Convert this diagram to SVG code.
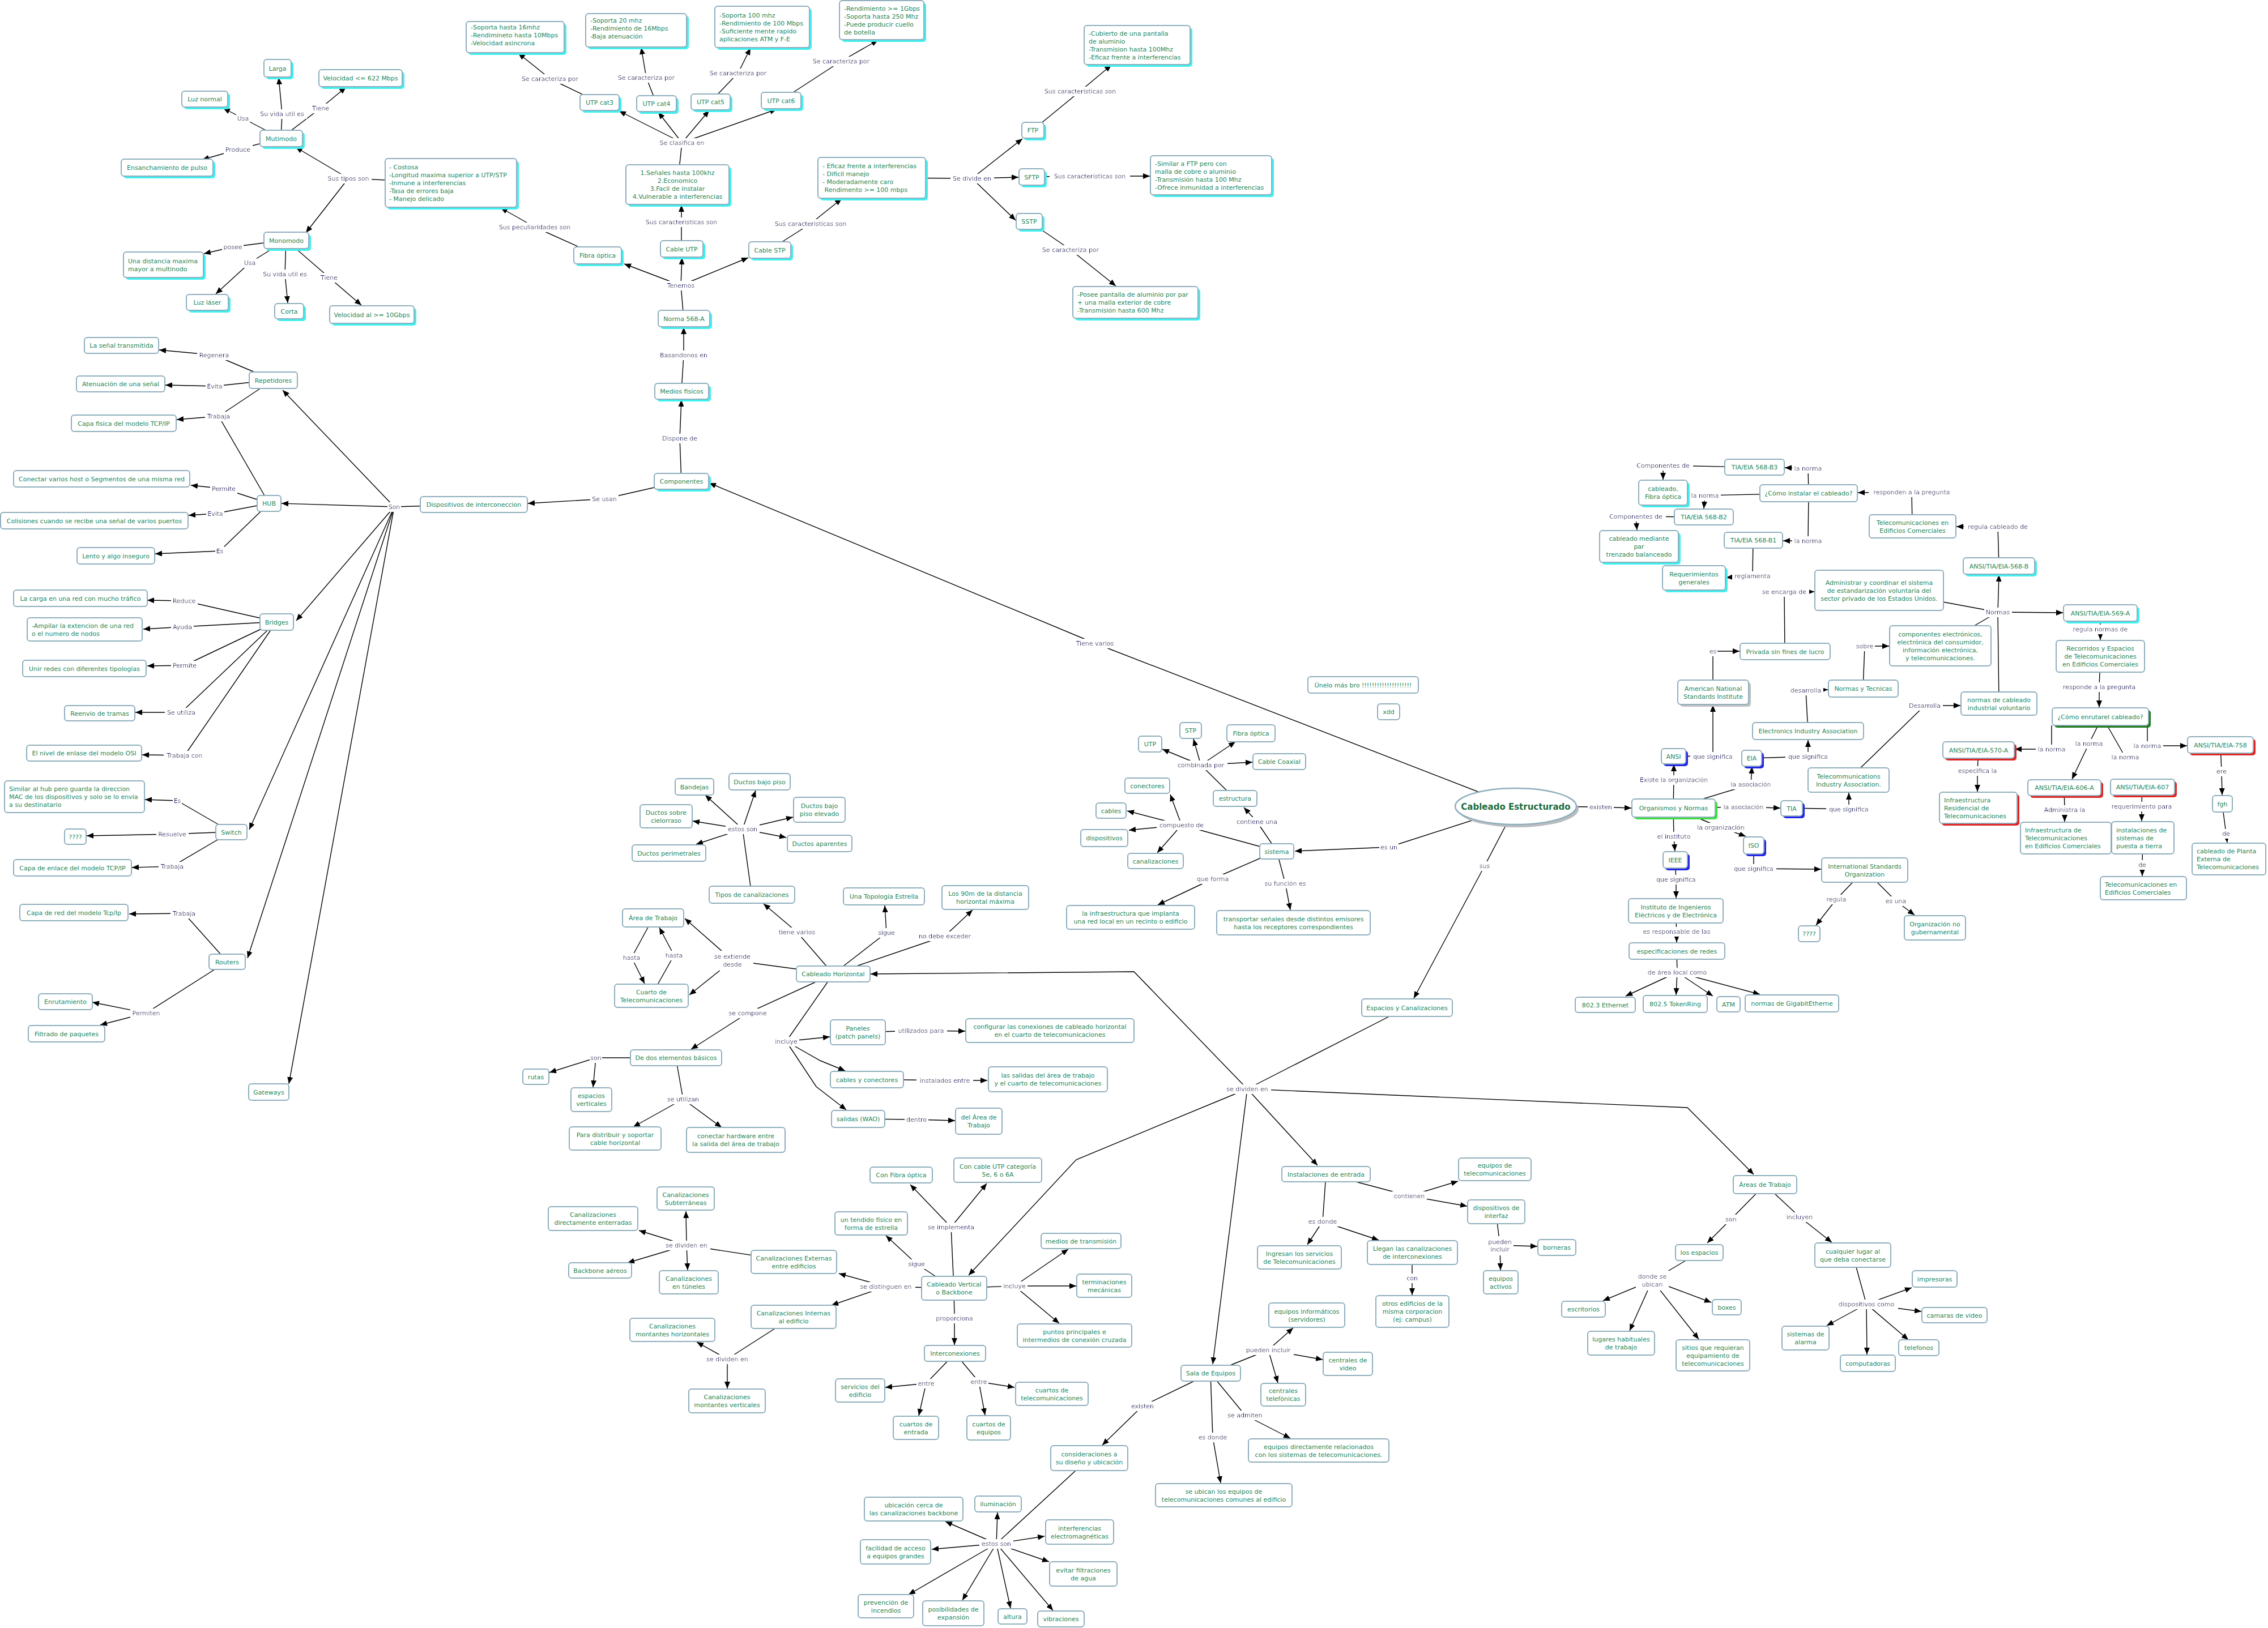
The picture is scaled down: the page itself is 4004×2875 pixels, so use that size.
<svg xmlns="http://www.w3.org/2000/svg" width="4004" height="2875" viewBox="0 0 4004 2875">
<style>
.b{fill:#fff;stroke:#8fafbd;stroke-width:2}
.sc{fill:#3ef0f0}.sr{fill:#e02424}.sb{fill:#2424e8}.sg{fill:#3ce03c}.sd{fill:#1f7a1f}.sy{fill:#c0c0c0}
.t{font-family:"DejaVu Sans",Verdana,sans-serif;font-size:11px;fill:#23875a;text-anchor:middle}
.tl{text-anchor:start}
.lb{font-family:"DejaVu Sans",Verdana,sans-serif;font-size:11px;fill:#16166a;text-anchor:middle;filter:url(#bg)}
.c{fill:none;stroke:#000;stroke-width:1.4}
.a{marker-end:url(#ar)}
</style>
<defs>
<marker id="ar" markerUnits="userSpaceOnUse" markerWidth="12" markerHeight="10" refX="12" refY="5" orient="auto"><path d="M0,0 L12,5 L0,10 z" fill="#000"/></marker>
<filter id="bg" x="-0.06" y="-0.12" width="1.12" height="1.24"><feFlood flood-color="#fff" result="f"/><feComposite in="SourceGraphic" in2="f" operator="over"/></filter>
</defs>
<rect width="4004" height="2875" fill="#fff"/>
<g id="connectors" class="c">
<path d="M496,244 L429,209"/><path class="a" d="M429,209 L394,191"/>
<path d="M496,244 L498,201"/><path class="a" d="M498,201 L492,137"/>
<path d="M496,244 L566,191"/><path class="a" d="M566,191 L611,154"/>
<path d="M496,244 L420,264"/><path class="a" d="M420,264 L357,282"/>
<path d="M796,323 L615,315"/><path class="a" d="M615,315 L522,260"/><path class="a" d="M615,315 L540,411"/>
<path d="M505,424 L411,436"/><path class="a" d="M411,436 L360,448"/>
<path d="M505,424 L441,464"/><path class="a" d="M441,464 L381,519"/>
<path d="M505,424 L503,484"/><path class="a" d="M503,484 L508,535"/>
<path d="M505,424 L581,490"/><path class="a" d="M581,490 L638,539"/>
<path d="M1055,451 L944,401"/><path class="a" d="M944,401 L884,367"/>
<path d="M482,671 L378,627"/><path class="a" d="M378,627 L281,618"/>
<path d="M482,671 L379,682"/><path class="a" d="M379,682 L292,680"/>
<path d="M482,671 L386,735"/><path d="M475,889 L386,735"/><path class="a" d="M386,735 L312,741"/>
<path d="M475,889 L395,863"/><path class="a" d="M395,863 L337,857"/>
<path d="M475,889 L380,907"/><path class="a" d="M380,907 L333,910"/>
<path d="M475,889 L388,973"/><path class="a" d="M388,973 L274,978"/>
<path d="M836,891 L696,895"/><path class="a" d="M696,895 L499,689"/><path class="a" d="M696,895 L497,889"/><path class="a" d="M696,895 L523,1096"/><path class="a" d="M696,895 L440,1465"/><path class="a" d="M696,895 L437,1692"/><path class="a" d="M696,895 L510,1914"/>
<path d="M488,1098 L325,1061"/><path class="a" d="M325,1061 L260,1060"/>
<path d="M488,1098 L322,1107"/><path class="a" d="M322,1107 L253,1111"/>
<path d="M488,1098 L326,1175"/><path class="a" d="M326,1175 L260,1176"/>
<path d="M488,1098 L320,1258"/><path class="a" d="M320,1258 L239,1258"/>
<path d="M488,1098 L326,1334"/><path class="a" d="M326,1334 L251,1333"/>
<path d="M408,1469 L313,1414"/><path class="a" d="M313,1414 L256,1412"/>
<path d="M408,1469 L304,1473"/><path class="a" d="M304,1473 L153,1476"/>
<path d="M408,1469 L304,1530"/><path class="a" d="M304,1530 L233,1532"/>
<path d="M401,1698 L325,1613"/><path class="a" d="M325,1613 L228,1614"/>
<path d="M401,1698 L258,1789"/><path class="a" d="M258,1789 L163,1770"/><path class="a" d="M258,1789 L177,1810"/>
<path d="M1203,850 L1067,881"/><path class="a" d="M1067,881 L932,889"/>
<path d="M1203,850 L1200,774"/><path class="a" d="M1200,774 L1203,706"/>
<path d="M1203,691 L1207,627"/><path class="a" d="M1207,627 L1207,578"/>
<path d="M1207,562 L1202,504"/><path class="a" d="M1202,504 L1102,466"/><path class="a" d="M1202,504 L1204,455"/><path class="a" d="M1202,504 L1321,455"/>
<path d="M1203,439 L1203,392"/><path class="a" d="M1203,392 L1203,362"/>
<path d="M1359,441 L1431,395"/><path class="a" d="M1431,395 L1486,351"/>
<path d="M1196,326 L1204,252"/><path class="a" d="M1204,252 L1093,196"/><path class="a" d="M1204,252 L1162,198"/><path class="a" d="M1204,252 L1252,195"/><path class="a" d="M1204,252 L1371,193"/>
<path d="M1058,181 L971,139"/><path class="a" d="M971,139 L915,94"/>
<path d="M1159,183 L1141,137"/><path class="a" d="M1141,137 L1132,84"/>
<path d="M1254,180 L1303,129"/><path class="a" d="M1303,129 L1325,85"/>
<path d="M1379,177 L1485,108"/><path class="a" d="M1485,108 L1550,71"/>
<path d="M1539,314 L1716,315"/><path class="a" d="M1716,315 L1805,245"/><path class="a" d="M1716,315 L1798,313"/><path class="a" d="M1716,315 L1793,389"/>
<path d="M1823,230 L1907,161"/><path class="a" d="M1907,161 L1962,115"/>
<path d="M1821,312 L1924,311"/><path class="a" d="M1924,311 L2030,311"/>
<path d="M1817,391 L1890,441"/><path class="a" d="M1890,441 L1970,505"/>
<path d="M2676,1424 L1933,1136"/><path class="a" d="M1933,1136 L1252,853"/>
<path d="M2676,1424 L2452,1496"/><path class="a" d="M2452,1496 L2286,1503"/>
<path d="M2676,1424 L2621,1529"/><path class="a" d="M2621,1529 L2496,1763"/>
<path d="M2676,1424 L2826,1425"/><path class="a" d="M2826,1425 L2880,1427"/>
<path d="M2254,1503 L2219,1451"/><path class="a" d="M2219,1451 L2196,1426"/>
<path d="M2254,1503 L2086,1457"/><path class="a" d="M2086,1457 L2066,1403"/><path class="a" d="M2086,1457 L1990,1432"/><path class="a" d="M2086,1457 L1993,1466"/><path class="a" d="M2086,1457 L2043,1506"/>
<path d="M2180,1410 L2120,1351"/><path class="a" d="M2120,1351 L2052,1323"/><path class="a" d="M2120,1351 L2107,1305"/><path class="a" d="M2120,1351 L2181,1310"/><path class="a" d="M2120,1351 L2211,1346"/>
<path d="M2254,1503 L2141,1552"/><path class="a" d="M2141,1552 L2044,1598"/>
<path d="M2254,1503 L2269,1560"/><path class="a" d="M2269,1560 L2278,1607"/>
<path d="M1471,1720 L1407,1646"/><path class="a" d="M1407,1646 L1348,1596"/>
<path d="M1327,1580 L1311,1464"/><path class="a" d="M1311,1464 L1245,1404"/><path class="a" d="M1311,1464 L1334,1396"/><path class="a" d="M1311,1464 L1223,1450"/><path class="a" d="M1311,1464 L1400,1443"/><path class="a" d="M1311,1464 L1229,1491"/><path class="a" d="M1311,1464 L1388,1479"/>
<path d="M1471,1720 L1565,1647"/><path class="a" d="M1565,1647 L1562,1599"/>
<path d="M1471,1720 L1668,1653"/><path class="a" d="M1668,1653 L1717,1607"/>
<path d="M1471,1720 L1293,1696"/><path class="a" d="M1293,1696 L1209,1622"/><path class="a" d="M1293,1696 L1217,1757"/>
<path d="M1153,1621 L1115,1691"/><path class="a" d="M1115,1691 L1138,1737"/>
<path d="M1150,1758 L1190,1687"/><path class="a" d="M1190,1687 L1164,1638"/>
<path d="M1471,1720 L1320,1789"/><path class="a" d="M1320,1789 L1220,1853"/>
<path d="M1193,1868 L1052,1868"/><path class="a" d="M1052,1868 L970,1894"/><path class="a" d="M1052,1868 L1047,1920"/>
<path d="M1193,1868 L1206,1941"/><path class="a" d="M1206,1941 L1118,1990"/><path class="a" d="M1206,1941 L1274,1991"/>
<path d="M1471,1720 L1388,1839"/><path class="a" d="M1388,1839 L1465,1831"/><path class="a" d="M1388,1839 L1448,1873 L1492,1891"/><path class="a" d="M1388,1839 L1441,1919 L1494,1960"/>
<path d="M1514,1823 L1626,1820"/><path class="a" d="M1626,1820 L1704,1821"/>
<path d="M1530,1906 L1668,1908"/><path class="a" d="M1668,1908 L1743,1908"/>
<path d="M1515,1976 L1618,1977"/><path class="a" d="M1618,1977 L1686,1979"/>
<path d="M1684,2275 L1679,2167"/><path class="a" d="M1679,2167 L1607,2092"/><path class="a" d="M1679,2167 L1742,2090"/>
<path d="M1684,2275 L1618,2232"/><path class="a" d="M1618,2232 L1564,2182"/>
<path d="M1684,2275 L1791,2271"/><path class="a" d="M1791,2271 L1886,2206"/><path class="a" d="M1791,2271 L1900,2271"/><path class="a" d="M1791,2271 L1870,2337"/>
<path d="M1684,2275 L1564,2272"/><path class="a" d="M1564,2272 L1481,2249"/><path class="a" d="M1564,2272 L1468,2305"/>
<path d="M1401,2228 L1212,2199"/><path class="a" d="M1212,2199 L1211,2139"/><path class="a" d="M1212,2199 L1128,2173"/><path class="a" d="M1212,2199 L1108,2230"/><path class="a" d="M1212,2199 L1214,2243"/>
<path d="M1401,2325 L1284,2400"/><path class="a" d="M1284,2400 L1230,2370"/><path class="a" d="M1284,2400 L1284,2452"/>
<path d="M1684,2275 L1685,2328"/><path class="a" d="M1685,2328 L1685,2375"/>
<path d="M1686,2390 L1635,2443"/><path class="a" d="M1635,2443 L1563,2450"/><path class="a" d="M1635,2443 L1622,2500"/>
<path d="M1686,2390 L1728,2440"/><path class="a" d="M1728,2440 L1791,2450"/><path class="a" d="M1728,2440 L1739,2499"/>
<path d="M2484,1779 L2202,1923"/>
<path class="a" d="M2202,1923 L2002,1716 L1537,1720"/>
<path class="a" d="M2202,1923 L1900,2048 L1710,2252"/>
<path class="a" d="M2202,1923 L2326,2058"/>
<path class="a" d="M2202,1923 L2141,2409"/>
<path class="a" d="M2202,1923 L2979,1956 L3096,2074"/>
<path d="M2341,2073 L2488,2112"/><path class="a" d="M2488,2112 L2574,2086"/><path class="a" d="M2488,2112 L2590,2130"/>
<path d="M2341,2073 L2335,2157"/><path class="a" d="M2335,2157 L2308,2198"/><path class="a" d="M2335,2157 L2434,2190"/>
<path d="M2493,2212 L2493,2257"/><path class="a" d="M2493,2257 L2493,2287"/>
<path d="M2641,2140 L2648,2199"/><path class="a" d="M2648,2199 L2714,2201"/><path class="a" d="M2648,2199 L2649,2243"/>
<path d="M2137,2425 L2239,2384"/><path class="a" d="M2239,2384 L2283,2345"/><path class="a" d="M2239,2384 L2335,2401"/><path class="a" d="M2239,2384 L2256,2442"/>
<path d="M2137,2425 L2017,2483"/><path class="a" d="M2017,2483 L1946,2552"/>
<path d="M2137,2425 L2198,2499"/><path class="a" d="M2198,2499 L2278,2540"/>
<path d="M2137,2425 L2141,2538"/><path class="a" d="M2141,2538 L2155,2619"/>
<path d="M1923,2575 L1759,2726"/><path class="a" d="M1759,2726 L1669,2687"/><path class="a" d="M1759,2726 L1761,2671"/><path class="a" d="M1759,2726 L1844,2713"/><path class="a" d="M1759,2726 L1645,2736"/><path class="a" d="M1759,2726 L1852,2758"/><path class="a" d="M1759,2726 L1604,2816"/><path class="a" d="M1759,2726 L1699,2826"/><path class="a" d="M1759,2726 L1784,2840"/><path class="a" d="M1759,2726 L1859,2844"/>
<path d="M3116,2092 L3056,2153"/><path class="a" d="M3056,2153 L3014,2195"/>
<path d="M3116,2092 L3177,2149"/><path class="a" d="M3177,2149 L3234,2194"/>
<path d="M3000,2212 L2917,2261"/><path class="a" d="M2917,2261 L2830,2297"/><path class="a" d="M2917,2261 L2877,2350"/><path class="a" d="M2917,2261 L2999,2365"/><path class="a" d="M2917,2261 L3021,2300"/>
<path d="M3271,2216 L3295,2303"/><path class="a" d="M3295,2303 L3375,2274"/><path class="a" d="M3295,2303 L3392,2316"/><path class="a" d="M3295,2303 L3225,2341"/><path class="a" d="M3295,2303 L3369,2366"/><path class="a" d="M3295,2303 L3296,2392"/>
<path d="M3097,825 L2936,822"/><path class="a" d="M2936,822 L2936,847"/>
<path d="M3193,871 L3192,827"/><path class="a" d="M3192,827 L3151,826"/>
<path d="M3193,871 L3010,875"/><path class="a" d="M3010,875 L3008,898"/>
<path d="M3193,871 L3192,955"/><path class="a" d="M3192,955 L3148,955"/>
<path d="M3008,913 L2888,912"/><path class="a" d="M2888,912 L2890,936"/>
<path d="M3376,929 L3375,869"/><path class="a" d="M3375,869 L3280,870"/>
<path d="M3529,999 L3527,930"/><path class="a" d="M3527,930 L3454,930"/>
<path d="M3095,954 L3094,1017"/><path class="a" d="M3094,1017 L3047,1020"/>
<path d="M3151,1150 L3150,1045"/><path class="a" d="M3150,1045 L3203,1045"/>
<path d="M3529,1242 L3527,1081"/><path d="M3317,1042 L3527,1081"/><path d="M3425,1140 L3527,1081"/>
<path class="a" d="M3527,1081 L3529,1015"/><path class="a" d="M3527,1081 L3642,1082"/>
<path d="M3708,1082 L3708,1111"/><path class="a" d="M3708,1111 L3708,1130"/>
<path d="M3708,1159 L3706,1213"/><path class="a" d="M3706,1213 L3706,1249"/>
<path d="M3024,1222 L3024,1150"/><path class="a" d="M3024,1150 L3071,1150"/>
<path d="M3289,1216 L3292,1141"/><path class="a" d="M3292,1141 L3335,1141"/>
<path d="M3192,1291 L3188,1219"/><path class="a" d="M3188,1219 L3227,1218"/>
<path d="M3263,1377 L3398,1246"/><path class="a" d="M3398,1246 L3461,1246"/>
<path d="M3622,1281 L3622,1323"/><path class="a" d="M3622,1323 L3557,1323"/>
<path d="M3704,1281 L3688,1313"/><path class="a" d="M3688,1313 L3658,1376"/>
<path d="M3720,1281 L3752,1337"/>
<path d="M3791,1281 L3791,1317"/><path class="a" d="M3791,1317 L3861,1317"/>
<path d="M3493,1324 L3491,1361"/><path class="a" d="M3491,1361 L3491,1398"/>
<path d="M3644,1391 L3645,1430"/><path class="a" d="M3645,1430 L3645,1451"/>
<path d="M3782,1390 L3781,1424"/><path class="a" d="M3781,1424 L3781,1450"/>
<path d="M3783,1479 L3782,1527"/><path class="a" d="M3782,1527 L3782,1547"/>
<path d="M3920,1315 L3922,1362"/><path class="a" d="M3922,1362 L3923,1404"/>
<path d="M3923,1419 L3930,1472"/><path class="a" d="M3930,1472 L3932,1488"/>
<path d="M2954,1427 L2955,1377"/><path class="a" d="M2955,1377 L2955,1350"/>
<path d="M2954,1335 L3024,1336"/><path class="a" d="M3024,1336 L3024,1245"/>
<path d="M2954,1427 L3091,1385"/><path class="a" d="M3091,1385 L3093,1354"/>
<path d="M3092,1339 L3192,1336"/><path class="a" d="M3192,1336 L3192,1307"/>
<path d="M2954,1427 L3078,1425"/><path class="a" d="M3078,1425 L3143,1427"/>
<path d="M3163,1427 L3264,1429"/><path class="a" d="M3264,1429 L3264,1400"/>
<path d="M2954,1427 L3038,1461"/><path class="a" d="M3038,1461 L3082,1477"/>
<path d="M2954,1427 L2955,1477"/><path class="a" d="M2955,1477 L2957,1503"/>
<path d="M3096,1493 L3096,1534"/><path class="a" d="M3096,1534 L3215,1535"/>
<path d="M2957,1518 L2959,1553"/><path class="a" d="M2959,1553 L2959,1586"/>
<path d="M3292,1536 L3242,1588"/><path class="a" d="M3242,1588 L3206,1634"/>
<path d="M3292,1536 L3347,1591"/><path class="a" d="M3347,1591 L3380,1616"/>
<path d="M2958,1608 L2960,1645"/><path class="a" d="M2960,1645 L2960,1664"/>
<path d="M2960,1679 L2961,1717"/><path class="a" d="M2961,1717 L2870,1759"/><path class="a" d="M2961,1717 L2959,1757"/><path class="a" d="M2961,1717 L3024,1759"/><path class="a" d="M2961,1717 L3107,1756"/>
</g>
<g id="labels">
<text class="lb" x="429" y="213">Usa</text>
<text class="lb" x="498" y="205">Su vida util es</text>
<text class="lb" x="566" y="195">Tiene</text>
<text class="lb" x="420" y="268">Produce</text>
<text class="lb" x="615" y="319">Sus tipos son</text>
<text class="lb" x="411" y="440">posee</text>
<text class="lb" x="441" y="468">Usa</text>
<text class="lb" x="503" y="488">Su vida util es</text>
<text class="lb" x="581" y="494">Tiene</text>
<text class="lb" x="944" y="405">Sus peculiaridades son</text>
<text class="lb" x="378" y="631">Regenera</text>
<text class="lb" x="379" y="686">Evita</text>
<text class="lb" x="386" y="739">Trabaja</text>
<text class="lb" x="395" y="867">Permite</text>
<text class="lb" x="380" y="911">Evita</text>
<text class="lb" x="388" y="977">Es</text>
<text class="lb" x="696" y="899">Son</text>
<text class="lb" x="325" y="1065">Reduce</text>
<text class="lb" x="322" y="1111">Ayuda</text>
<text class="lb" x="326" y="1179">Permite</text>
<text class="lb" x="320" y="1262">Se utiliza</text>
<text class="lb" x="326" y="1338">Trabaja con</text>
<text class="lb" x="313" y="1418">Es</text>
<text class="lb" x="304" y="1477">Resuelve</text>
<text class="lb" x="304" y="1534">Trabaja</text>
<text class="lb" x="325" y="1617">Trabaja</text>
<text class="lb" x="258" y="1793">Permiten</text>
<text class="lb" x="1067" y="885">Se usan</text>
<text class="lb" x="1200" y="778">Dispone de</text>
<text class="lb" x="1207" y="631">Basandonos en</text>
<text class="lb" x="1202" y="508">Tenemos</text>
<text class="lb" x="1203" y="396">Sus caracteristicas son</text>
<text class="lb" x="1431" y="399">Sus caracteristicas son</text>
<text class="lb" x="1204" y="256">Se clasifica en</text>
<text class="lb" x="971" y="143">Se caracteriza por</text>
<text class="lb" x="1141" y="141">Se caracteriza por</text>
<text class="lb" x="1303" y="133">Se caracteriza por</text>
<text class="lb" x="1485" y="112">Se caracteriza por</text>
<text class="lb" x="1716" y="319">Se divide en</text>
<text class="lb" x="1907" y="165">Sus caracteristicas son</text>
<text class="lb" x="1924" y="315">Sus caracteristicas son</text>
<text class="lb" x="1890" y="445">Se caracteriza por</text>
<text class="lb" x="1933" y="1140">Tiene  varios</text>
<text class="lb" x="2120" y="1355">combinada por</text>
<text class="lb" x="2219" y="1455">contiene una</text>
<text class="lb" x="2086" y="1461">compuesto de</text>
<text class="lb" x="2452" y="1500">es un</text>
<text class="lb" x="2621" y="1533">sus</text>
<text class="lb" x="2141" y="1556">que forma</text>
<text class="lb" x="2269" y="1564">su función es</text>
<text class="lb" x="1311" y="1468">estos son</text>
<text class="lb" x="1407" y="1650">tiene varios</text>
<text class="lb" x="1565" y="1651">sigue</text>
<text class="lb" x="1668" y="1657">no debe exceder</text>
<text class="lb" x="1115" y="1695">hasta</text>
<text class="lb" x="1190" y="1691">hasta</text>
<text class="lb" x="1293" y="1693">se extiende<tspan x="1293" dy="14">desde</tspan></text>
<text class="lb" x="1320" y="1793">se compone</text>
<text class="lb" x="1626" y="1824">utilizados para</text>
<text class="lb" x="1388" y="1843">incluye</text>
<text class="lb" x="1052" y="1872">son</text>
<text class="lb" x="1668" y="1912">instalados entre</text>
<text class="lb" x="1206" y="1945">se utilizan</text>
<text class="lb" x="1618" y="1981">dentro</text>
<text class="lb" x="1679" y="2171">se implementa</text>
<text class="lb" x="1212" y="2203">se dividen en</text>
<text class="lb" x="1618" y="2236">sigue</text>
<text class="lb" x="1564" y="2276">se distinguen en</text>
<text class="lb" x="1791" y="2275">incluye</text>
<text class="lb" x="1685" y="2332">proporciona</text>
<text class="lb" x="1284" y="2404">se dividen en</text>
<text class="lb" x="1635" y="2447">entre</text>
<text class="lb" x="1728" y="2444">entre</text>
<text class="lb" x="1759" y="2730">estos son</text>
<text class="lb" x="2202" y="1927">se dividen en</text>
<text class="lb" x="2488" y="2116">contienen</text>
<text class="lb" x="2335" y="2161">es donde</text>
<text class="lb" x="2648" y="2197">pueden<tspan x="2648" dy="13">incluir</tspan></text>
<text class="lb" x="2493" y="2261">con</text>
<text class="lb" x="2239" y="2388">pueden incluir</text>
<text class="lb" x="2017" y="2487">existen</text>
<text class="lb" x="2198" y="2503">se admiten</text>
<text class="lb" x="2141" y="2542">es donde</text>
<text class="lb" x="3056" y="2157">son</text>
<text class="lb" x="3177" y="2153">incluyen</text>
<text class="lb" x="2917" y="2258">donde se<tspan x="2917" dy="14">ubican</tspan></text>
<text class="lb" x="3295" y="2307">dispositivos como</text>
<text class="lb" x="2826" y="1429">existen</text>
<text class="lb" x="2936" y="826">Componentes de</text>
<text class="lb" x="3192" y="831">la norma</text>
<text class="lb" x="3010" y="879">la norma</text>
<text class="lb" x="3375" y="873">responden a la pregunta</text>
<text class="lb" x="2888" y="916">Componentes de</text>
<text class="lb" x="3192" y="959">la norma</text>
<text class="lb" x="3527" y="934">regula cableado de</text>
<text class="lb" x="3094" y="1021">reglamenta</text>
<text class="lb" x="3150" y="1049">se encarga de</text>
<text class="lb" x="3527" y="1085">Normas</text>
<text class="lb" x="3708" y="1115">regula normas de</text>
<text class="lb" x="3292" y="1145">sobre</text>
<text class="lb" x="3024" y="1154">es</text>
<text class="lb" x="3188" y="1223">desarrolla</text>
<text class="lb" x="3706" y="1217">responde a la pregunta</text>
<text class="lb" x="3398" y="1250">Desarrolla</text>
<text class="lb" x="3688" y="1317">la norma</text>
<text class="lb" x="3791" y="1321">la norma</text>
<text class="lb" x="3622" y="1327">la norma</text>
<text class="lb" x="3752" y="1341">la norma</text>
<text class="lb" x="3024" y="1340">que significa</text>
<text class="lb" x="3192" y="1340">que significa</text>
<text class="lb" x="3491" y="1365">especifica la</text>
<text class="lb" x="3922" y="1366">ere</text>
<text class="lb" x="2955" y="1381">Existe la organización</text>
<text class="lb" x="3091" y="1389">la asociación</text>
<text class="lb" x="3078" y="1429">la asociación</text>
<text class="lb" x="3264" y="1433">que significa</text>
<text class="lb" x="3645" y="1434">Administra la</text>
<text class="lb" x="3781" y="1428">requerimiento para</text>
<text class="lb" x="3038" y="1465">la organización</text>
<text class="lb" x="2955" y="1481">el instituto</text>
<text class="lb" x="3930" y="1476">de</text>
<text class="lb" x="3096" y="1538">que significa</text>
<text class="lb" x="3782" y="1531">de</text>
<text class="lb" x="2959" y="1557">que significa</text>
<text class="lb" x="3242" y="1592">regula</text>
<text class="lb" x="3347" y="1595">es una</text>
<text class="lb" x="2960" y="1649">es responsable de las</text>
<text class="lb" x="2961" y="1721">de área local como</text>
</g>
<g id="nodes">
<g id="n-larga"><rect class="sc" x="470" y="109" width="48" height="31" rx="5"/><rect class="b" x="466" y="105" width="48" height="31" rx="5"/><text class="t" x="490" y="124.5">Larga</text></g>
<g id="n-vel622"><rect class="sc" x="567" y="127" width="147" height="30" rx="5"/><rect class="b" x="563" y="123" width="147" height="30" rx="5"/><text class="t" x="636.5" y="142">Velocidad &lt;= 622 Mbps</text></g>
<g id="n-luznormal"><rect class="sc" x="325" y="165" width="81" height="28" rx="5"/><rect class="b" x="321" y="161" width="81" height="28" rx="5"/><text class="t" x="361.5" y="179">Luz normal</text></g>
<g id="n-mutimodo"><rect class="sc" x="463" y="234" width="75" height="29" rx="5"/><rect class="b" x="459" y="230" width="75" height="29" rx="5"/><text class="t" x="496.5" y="248.5">Mutimodo</text></g>
<g id="n-ensanch"><rect class="sc" x="218" y="285" width="162" height="30" rx="5"/><rect class="b" x="214" y="281" width="162" height="30" rx="5"/><text class="t" x="295" y="300">Ensanchamiento de pulso</text></g>
<g id="n-costosa"><rect class="sc" x="684" y="284" width="232" height="86" rx="5"/><rect class="b" x="680" y="280" width="232" height="86" rx="5"/><text class="t tl" x="687" y="299">- Costosa<tspan x="687" dy="14">-Longitud maxima superior a UTP/STP</tspan><tspan x="687" dy="14">-Inmune a interferencias</tspan><tspan x="687" dy="14">-Tasa de errores baja</tspan><tspan x="687" dy="14">- Manejo delicado</tspan></text></g>
<g id="n-monomodo"><rect class="sc" x="470" y="414" width="79" height="29" rx="5"/><rect class="b" x="466" y="410" width="79" height="29" rx="5"/><text class="t" x="505.5" y="428.5">Monomodo</text></g>
<g id="n-distmax"><rect class="sc" x="222" y="449" width="141" height="45" rx="5"/><rect class="b" x="218" y="445" width="141" height="45" rx="5"/><text class="t tl" x="226" y="464.5">Una distancia maxima<tspan x="226" dy="14">mayor a multinodo</tspan></text></g>
<g id="n-luzlaser"><rect class="sc" x="333" y="524" width="74" height="28" rx="5"/><rect class="b" x="329" y="520" width="74" height="28" rx="5"/><text class="t" x="366" y="538">Luz láser</text></g>
<g id="n-corta"><rect class="sc" x="489" y="540" width="51" height="27" rx="5"/><rect class="b" x="485" y="536" width="51" height="27" rx="5"/><text class="t" x="510.5" y="553.5">Corta</text></g>
<g id="n-vel10g"><rect class="sc" x="586" y="544" width="149" height="31" rx="5"/><rect class="b" x="582" y="540" width="149" height="31" rx="5"/><text class="t" x="656.5" y="559.5">Velocidad al &gt;= 10Gbps</text></g>
<g id="n-senal"><rect class="b" x="149" y="596" width="131" height="28" rx="5"/><text class="t" x="214.5" y="614">La señal transmitida</text></g>
<g id="n-repetidores"><rect class="b" x="440" y="657" width="85" height="29" rx="5"/><text class="t" x="482.5" y="675.5">Repetidores</text></g>
<g id="n-atenuacion"><rect class="b" x="135" y="664" width="156" height="28" rx="5"/><text class="t" x="213" y="682">Atenuación de una señal</text></g>
<g id="n-capafisica"><rect class="b" x="126" y="733" width="185" height="29" rx="5"/><text class="t" x="218.5" y="751.5">Capa fisica del modelo TCP/IP</text></g>
<g id="n-conectar"><rect class="b" x="24" y="831" width="311" height="29" rx="5"/><text class="t" x="179.5" y="849.5">Conectar varios host o Segmentos de una misma red</text></g>
<g id="n-hub"><rect class="b" x="454" y="875" width="42" height="28" rx="5"/><text class="t" x="475" y="893">HUB</text></g>
<g id="n-colisiones"><rect class="b" x="1" y="905" width="331" height="29" rx="5"/><text class="t" x="166.5" y="923.5">Colisiones cuando se recibe una señal de varios puertos</text></g>
<g id="n-lento"><rect class="b" x="136" y="967" width="137" height="29" rx="5"/><text class="t" x="204.5" y="985.5">Lento y algo inseguro</text></g>
<g id="n-dispint"><rect class="b" x="742" y="877" width="189" height="28" rx="5"/><text class="t" x="836.5" y="895">Dispositivos de interconeccion</text></g>
<g id="n-carga"><rect class="b" x="24" y="1042" width="236" height="29" rx="5"/><text class="t" x="142" y="1060.5">La carga en una red con mucho tráfico</text></g>
<g id="n-bridges"><rect class="b" x="459" y="1084" width="59" height="29" rx="5"/><text class="t" x="488.5" y="1102.5">Bridges</text></g>
<g id="n-ampilar"><rect class="b" x="48" y="1091" width="203" height="41" rx="5"/><text class="t tl" x="56" y="1108.5">-Ampilar la extencion de una red<tspan x="56" dy="14">o el numero de nodos</tspan></text></g>
<g id="n-unir"><rect class="b" x="40" y="1166" width="218" height="29" rx="5"/><text class="t" x="149" y="1184.5">Unir redes con diferentes tipologías</text></g>
<g id="n-reenvio"><rect class="b" x="114" y="1246" width="124" height="27" rx="5"/><text class="t" x="176" y="1263.5">Reenvio de tramas</text></g>
<g id="n-nivelosi"><rect class="b" x="47" y="1316" width="203" height="28" rx="5"/><text class="t" x="148.5" y="1334">El nivel de enlase del modelo OSI</text></g>
<g id="n-similar"><rect class="b" x="8" y="1379" width="247" height="56" rx="5"/><text class="t tl" x="16" y="1397">Similar al hub pero guarda la direccion<tspan x="16" dy="14">MAC de los dispositivos y solo se lo envia</tspan><tspan x="16" dy="14">a su destinatario</tspan></text></g>
<g id="n-q1"><rect class="b" x="114" y="1464" width="38" height="27" rx="5"/><text class="t" x="133" y="1481.5">????</text></g>
<g id="n-switch"><rect class="b" x="381" y="1456" width="55" height="27" rx="5"/><text class="t" x="408.5" y="1473.5">Switch</text></g>
<g id="n-capaenlace"><rect class="b" x="24" y="1518" width="208" height="29" rx="5"/><text class="t" x="128" y="1536.5">Capa de enlace del modelo TCP/IP</text></g>
<g id="n-capared"><rect class="b" x="35" y="1597" width="191" height="29" rx="5"/><text class="t" x="130.5" y="1615.5">Capa de red del modelo Tcp/Ip</text></g>
<g id="n-routers"><rect class="b" x="369" y="1685" width="64" height="27" rx="5"/><text class="t" x="401" y="1702.5">Routers</text></g>
<g id="n-enrut"><rect class="b" x="68" y="1755" width="95" height="28" rx="5"/><text class="t" x="115.5" y="1773">Enrutamiento</text></g>
<g id="n-filtrado"><rect class="b" x="50" y="1811" width="135" height="29" rx="5"/><text class="t" x="117.5" y="1829.5">Filtrado de paquetes</text></g>
<g id="n-gateways"><rect class="b" x="439" y="1914" width="71" height="29" rx="5"/><text class="t" x="474.5" y="1932.5">Gateways</text></g>
<g id="n-cat3box"><rect class="sc" x="827" y="42" width="173" height="55" rx="5"/><rect class="b" x="823" y="38" width="173" height="55" rx="5"/><text class="t tl" x="831" y="51.5">-Soporta hasta 16mhz<tspan x="831" dy="14">-Rendimineto hasta 10Mbps</tspan><tspan x="831" dy="14">-Velocidad asincrona</tspan></text></g>
<g id="n-cat4box"><rect class="sc" x="1038" y="28" width="178" height="59" rx="5"/><rect class="b" x="1034" y="24" width="178" height="59" rx="5"/><text class="t tl" x="1042" y="39.5">-Soporta 20 mhz<tspan x="1042" dy="14">-Rendimiento de 16Mbps</tspan><tspan x="1042" dy="14">-Baja atenuación</tspan></text></g>
<g id="n-cat5box"><rect class="sc" x="1266" y="15" width="167" height="73" rx="5"/><rect class="b" x="1262" y="11" width="167" height="73" rx="5"/><text class="t tl" x="1270" y="30.5">-Soporta 100 mhz<tspan x="1270" dy="14">-Rendimiento de 100 Mbps</tspan><tspan x="1270" dy="14">-Suficiente mente rapido</tspan><tspan x="1270" dy="14">aplicaciones ATM y F-E</tspan></text></g>
<g id="n-cat6box"><rect class="sc" x="1486" y="5" width="149" height="69" rx="5"/><rect class="b" x="1482" y="1" width="149" height="69" rx="5"/><text class="t tl" x="1490" y="18.5">-Rendimiento &gt;= 1Gbps<tspan x="1490" dy="14">-Soporta hasta 250 Mhz</tspan><tspan x="1490" dy="14">-Puede producir cuello</tspan><tspan x="1490" dy="14">de botella</tspan></text></g>
<g id="n-cat3"><rect class="sc" x="1028" y="171" width="69" height="28" rx="5"/><rect class="b" x="1024" y="167" width="69" height="28" rx="5"/><text class="t" x="1058.5" y="185">UTP cat3</text></g>
<g id="n-cat4"><rect class="sc" x="1128" y="173" width="70" height="28" rx="5"/><rect class="b" x="1124" y="169" width="70" height="28" rx="5"/><text class="t" x="1159" y="187">UTP cat4</text></g>
<g id="n-cat5"><rect class="sc" x="1224" y="170" width="69" height="28" rx="5"/><rect class="b" x="1220" y="166" width="69" height="28" rx="5"/><text class="t" x="1254.5" y="184">UTP cat5</text></g>
<g id="n-cat6"><rect class="sc" x="1348" y="167" width="70" height="29" rx="5"/><rect class="b" x="1344" y="163" width="70" height="29" rx="5"/><text class="t" x="1379" y="181.5">UTP cat6</text></g>
<g id="n-senales"><rect class="sc" x="1109" y="295" width="182" height="70" rx="5"/><rect class="b" x="1105" y="291" width="182" height="70" rx="5"/><text class="t" x="1196" y="309">1.Señales hasta 100khz<tspan x="1196" dy="14">2.Economico</tspan><tspan x="1196" dy="14">3.Facil de instalar</tspan><tspan x="1196" dy="14">4.Vulnerable a interferencias</tspan></text></g>
<g id="n-eficaz"><rect class="sc" x="1448" y="282" width="190" height="72" rx="5"/><rect class="b" x="1444" y="278" width="190" height="72" rx="5"/><text class="t tl" x="1452" y="297">- Eficaz frente a interferencias<tspan x="1452" dy="14">- Dificil manejo</tspan><tspan x="1452" dy="14">- Moderadamente caro</tspan><tspan x="1452" dy="14"> Rendimento &gt;= 100 mbps</tspan></text></g>
<g id="n-fibra"><rect class="sc" x="1017" y="440" width="84" height="30" rx="5"/><rect class="b" x="1013" y="436" width="84" height="30" rx="5"/><text class="t" x="1055" y="455">Fibra óptica</text></g>
<g id="n-cableutp"><rect class="sc" x="1170" y="429" width="75" height="29" rx="5"/><rect class="b" x="1166" y="425" width="75" height="29" rx="5"/><text class="t" x="1203.5" y="443.5">Cable UTP</text></g>
<g id="n-cablestp"><rect class="sc" x="1326" y="431" width="74" height="29" rx="5"/><rect class="b" x="1322" y="427" width="74" height="29" rx="5"/><text class="t" x="1359" y="445.5">Cable STP</text></g>
<g id="n-norma568a"><rect class="sc" x="1166" y="552" width="91" height="29" rx="5"/><rect class="b" x="1162" y="548" width="91" height="29" rx="5"/><text class="t" x="1207.5" y="566.5">Norma 568-A</text></g>
<g id="n-medios"><rect class="sc" x="1160" y="681" width="95" height="28" rx="5"/><rect class="b" x="1156" y="677" width="95" height="28" rx="5"/><text class="t" x="1203.5" y="695">Medios fisicos</text></g>
<g id="n-componentes"><rect class="sc" x="1159" y="840" width="96" height="28" rx="5"/><rect class="b" x="1155" y="836" width="96" height="28" rx="5"/><text class="t" x="1203" y="854">Componentes</text></g>
<g id="n-ftp"><rect class="sc" x="1808" y="220" width="39" height="28" rx="5"/><rect class="b" x="1804" y="216" width="39" height="28" rx="5"/><text class="t" x="1823.5" y="234">FTP</text></g>
<g id="n-sftp"><rect class="sc" x="1803" y="302" width="45" height="29" rx="5"/><rect class="b" x="1799" y="298" width="45" height="29" rx="5"/><text class="t" x="1821.5" y="316.5">SFTP</text></g>
<g id="n-sstp"><rect class="sc" x="1798" y="381" width="46" height="28" rx="5"/><rect class="b" x="1794" y="377" width="46" height="28" rx="5"/><text class="t" x="1817" y="395">SSTP</text></g>
<g id="n-cubierto"><rect class="sc" x="1918" y="49" width="187" height="69" rx="5"/><rect class="b" x="1914" y="45" width="187" height="69" rx="5"/><text class="t tl" x="1922" y="62.5">-Cubierto de una pantalla<tspan x="1922" dy="14">de aluminio</tspan><tspan x="1922" dy="14">-Transmision hasta 100Mhz</tspan><tspan x="1922" dy="14">-Eficaz frente a interferencias</tspan></text></g>
<g id="n-similarftp"><rect class="sc" x="2035" y="279" width="214" height="69" rx="5"/><rect class="b" x="2031" y="275" width="214" height="69" rx="5"/><text class="t tl" x="2039" y="292.5">-Similar a FTP pero con<tspan x="2039" dy="14">malla de cobre o aluminio</tspan><tspan x="2039" dy="14">-Transmisión hasta 100 Mhz</tspan><tspan x="2039" dy="14">-Ofrece inmunidad a interferencias</tspan></text></g>
<g id="n-posee"><rect class="sc" x="1898" y="510" width="221" height="56" rx="5"/><rect class="b" x="1894" y="506" width="221" height="56" rx="5"/><text class="t tl" x="1902" y="524">-Posee pantalla de aluminio por par<tspan x="1902" dy="14">+ una malla exterior de cobre</tspan><tspan x="1902" dy="14">-Transmisión hasta 600 Mhz</tspan></text></g>
<g id="n-unelo"><rect class="b" x="2309" y="1195" width="195" height="29" rx="5"/><text class="t" x="2406.5" y="1213.5">Únelo más bro !!!!!!!!!!!!!!!!!!!!</text></g>
<g id="n-xdd"><rect class="b" x="2432" y="1243" width="39" height="28" rx="5"/><text class="t" x="2451.5" y="1261">xdd</text></g>
<g id="n-stp2"><rect class="b" x="2083" y="1276" width="38" height="28" rx="5"/><text class="t" x="2102" y="1294">STP</text></g>
<g id="n-fibra2"><rect class="b" x="2166" y="1280" width="85" height="30" rx="5"/><text class="t" x="2208.5" y="1299">Fibra óptica</text></g>
<g id="n-utp2"><rect class="b" x="2010" y="1300" width="41" height="28" rx="5"/><text class="t" x="2030.5" y="1318">UTP</text></g>
<g id="n-coaxial"><rect class="b" x="2212" y="1331" width="93" height="28" rx="5"/><text class="t" x="2258.5" y="1349">Cable Coaxial</text></g>
<g id="n-conectores"><rect class="b" x="1986" y="1374" width="79" height="27" rx="5"/><text class="t" x="2025.5" y="1391.5">conectores</text></g>
<g id="n-estructura"><rect class="b" x="2142" y="1396" width="77" height="28" rx="5"/><text class="t" x="2180.5" y="1414">estructura</text></g>
<g id="n-cables"><rect class="b" x="1935" y="1418" width="53" height="27" rx="5"/><text class="t" x="1961.5" y="1435.5">cables</text></g>
<g id="n-dispositivos"><rect class="b" x="1908" y="1465" width="83" height="30" rx="5"/><text class="t" x="1949.5" y="1484">dispositivos</text></g>
<g id="n-sistema"><rect class="b" x="2224" y="1490" width="60" height="27" rx="5"/><text class="t" x="2254" y="1507.5">sistema</text></g>
<g id="n-canalizaciones"><rect class="b" x="1991" y="1507" width="98" height="27" rx="5"/><text class="t" x="2040" y="1524.5">canalizaciones</text></g>
<g id="n-infra"><rect class="b" x="1883" y="1599" width="226" height="42" rx="5"/><text class="t" x="1996" y="1617">la infraestructura que implanta<tspan x="1996" dy="14">una red local en un recinto o edificio</tspan></text></g>
<g id="n-transportar"><rect class="b" x="2148" y="1608" width="271" height="43" rx="5"/><text class="t" x="2283.5" y="1626.5">transportar señales desde distintos emisores<tspan x="2283.5" dy="14">hasta los receptores correspondientes</tspan></text></g>
<g id="n-espacios"><rect class="b" x="2404" y="1764" width="160" height="31" rx="5"/><text class="t" x="2484" y="1783.5">Espacios y Canalizaciones</text></g>
<g id="n-cableado-estructurado"><ellipse cx="2680" cy="1429" rx="107" ry="32" fill="#b9bcc0"/><ellipse cx="2676" cy="1424" rx="107" ry="32" fill="#fff" stroke="#8fafbd" stroke-width="2.5"/><text x="2676" y="1429.5" text-anchor="middle" font-family="DejaVu Sans, Verdana, sans-serif" font-size="15" font-weight="bold" fill="#1d6b3e">Cableado Estructurado</text></g>
<g id="n-bandejas"><rect class="b" x="1192" y="1375" width="68" height="29" rx="5"/><text class="t" x="1226" y="1393.5">Bandejas</text></g>
<g id="n-ductosbajo"><rect class="b" x="1287" y="1366" width="108" height="29" rx="5"/><text class="t" x="1341" y="1384.5">Ductos bajo piso</text></g>
<g id="n-cielorraso"><rect class="b" x="1130" y="1421" width="92" height="41" rx="5"/><text class="t" x="1176" y="1438.5">Ductos sobre<tspan x="1176" dy="14">cielorraso</tspan></text></g>
<g id="n-elevado"><rect class="b" x="1401" y="1408" width="91" height="44" rx="5"/><text class="t" x="1446.5" y="1427">Ductos bajo<tspan x="1446.5" dy="14">piso elevado</tspan></text></g>
<g id="n-perimetrales"><rect class="b" x="1116" y="1492" width="130" height="29" rx="5"/><text class="t" x="1181" y="1510.5">Ductos perimetrales</text></g>
<g id="n-aparentes"><rect class="b" x="1390" y="1475" width="114" height="29" rx="5"/><text class="t" x="1447" y="1493.5">Ductos aparentes</text></g>
<g id="n-tipos"><rect class="b" x="1252" y="1565" width="151" height="30" rx="5"/><text class="t" x="1327.5" y="1584">Tipos de canalizaciones</text></g>
<g id="n-topologia"><rect class="b" x="1489" y="1568" width="143" height="30" rx="5"/><text class="t" x="1560.5" y="1587">Una Topología Estrella</text></g>
<g id="n-m90"><rect class="b" x="1663" y="1564" width="153" height="42" rx="5"/><text class="t" x="1739.5" y="1582">Los 90m de la distancia<tspan x="1739.5" dy="14">horizontal máxima</tspan></text></g>
<g id="n-areatrab"><rect class="b" x="1099" y="1605" width="108" height="32" rx="5"/><text class="t" x="1153" y="1625">Área de Trabajo</text></g>
<g id="n-ch"><rect class="b" x="1406" y="1706" width="130" height="28" rx="5"/><text class="t" x="1471" y="1724">Cableado Horizontal</text></g>
<g id="n-cuarto"><rect class="b" x="1085" y="1738" width="130" height="41" rx="5"/><text class="t" x="1150" y="1755.5">Cuarto de<tspan x="1150" dy="14">Telecomunicaciones</tspan></text></g>
<g id="n-paneles"><rect class="b" x="1466" y="1801" width="97" height="44" rx="5"/><text class="t" x="1514.5" y="1820">Paneles<tspan x="1514.5" dy="14">(patch panels)</tspan></text></g>
<g id="n-configurar"><rect class="b" x="1705" y="1799" width="297" height="42" rx="5"/><text class="t" x="1853.5" y="1817">configurar las conexiones de cableado horizontal<tspan x="1853.5" dy="14">en el cuarto de telecomunicaciones</tspan></text></g>
<g id="n-dosel"><rect class="b" x="1113" y="1854" width="161" height="28" rx="5"/><text class="t" x="1193.5" y="1872">De dos elementos básicos</text></g>
<g id="n-rutas"><rect class="b" x="923" y="1888" width="46" height="27" rx="5"/><text class="t" x="946" y="1905.5">rutas</text></g>
<g id="n-espvert"><rect class="b" x="1008" y="1921" width="72" height="42" rx="5"/><text class="t" x="1044" y="1939">espacios<tspan x="1044" dy="14">verticales</tspan></text></g>
<g id="n-cablescon"><rect class="b" x="1466" y="1892" width="129" height="29" rx="5"/><text class="t" x="1530.5" y="1910.5">cables y conectores</text></g>
<g id="n-salidasarea"><rect class="b" x="1745" y="1884" width="210" height="44" rx="5"/><text class="t" x="1850" y="1903">las salidas del área de trabajo<tspan x="1850" dy="14">y el cuarto de telecomunicaciones</tspan></text></g>
<g id="n-wao"><rect class="b" x="1468" y="1961" width="94" height="30" rx="5"/><text class="t" x="1515" y="1980">salidas (WAO)</text></g>
<g id="n-delarea"><rect class="b" x="1687" y="1957" width="82" height="46" rx="5"/><text class="t" x="1728" y="1977">del Área de<tspan x="1728" dy="14">Trabajo</tspan></text></g>
<g id="n-paradist"><rect class="b" x="1005" y="1990" width="162" height="41" rx="5"/><text class="t" x="1086" y="2007.5">Para distribuir y soportar<tspan x="1086" dy="14">cable horizontal</tspan></text></g>
<g id="n-conhw"><rect class="b" x="1212" y="1991" width="174" height="44" rx="5"/><text class="t" x="1299" y="2010">conectar hardware entre<tspan x="1299" dy="14">la salida del área de trabajo</tspan></text></g>
<g id="n-confibra"><rect class="b" x="1536" y="2061" width="110" height="28" rx="5"/><text class="t" x="1591" y="2079">Con Fibra óptica</text></g>
<g id="n-conutp"><rect class="b" x="1684" y="2045" width="155" height="43" rx="5"/><text class="t" x="1761.5" y="2063.5">Con cable UTP categoría<tspan x="1761.5" dy="14">5e, 6 o 6A</tspan></text></g>
<g id="n-subterr"><rect class="b" x="1160" y="2096" width="101" height="41" rx="5"/><text class="t" x="1210.5" y="2113.5">Canalizaciones<tspan x="1210.5" dy="14">Subterráneas</tspan></text></g>
<g id="n-enterradas"><rect class="b" x="968" y="2131" width="158" height="42" rx="5"/><text class="t" x="1047" y="2149">Canalizaciones<tspan x="1047" dy="14">directamente enterradas</tspan></text></g>
<g id="n-tendido"><rect class="b" x="1474" y="2140" width="128" height="41" rx="5"/><text class="t" x="1538" y="2157.5">un tendido físico en<tspan x="1538" dy="14">forma de estrella</tspan></text></g>
<g id="n-medtrans"><rect class="b" x="1838" y="2178" width="141" height="27" rx="5"/><text class="t" x="1908.5" y="2195.5">medios de transmisión</text></g>
<g id="n-externas"><rect class="b" x="1326" y="2208" width="151" height="41" rx="5"/><text class="t" x="1401.5" y="2225.5">Canalizaciones Externas<tspan x="1401.5" dy="14">entre edificios</tspan></text></g>
<g id="n-aereos"><rect class="b" x="1004" y="2230" width="111" height="27" rx="5"/><text class="t" x="1059.5" y="2247.5">Backbone aéreos</text></g>
<g id="n-tuneles"><rect class="b" x="1164" y="2244" width="104" height="41" rx="5"/><text class="t" x="1216" y="2261.5">Canalizaciones<tspan x="1216" dy="14">en túneles</tspan></text></g>
<g id="n-terminac"><rect class="b" x="1901" y="2250" width="97" height="41" rx="5"/><text class="t" x="1949.5" y="2267.5">terminaciones<tspan x="1949.5" dy="14">mecánicas</tspan></text></g>
<g id="n-cv"><rect class="b" x="1627" y="2254" width="115" height="42" rx="5"/><text class="t" x="1684.5" y="2272">Cableado Vertical<tspan x="1684.5" dy="14">o Backbone</tspan></text></g>
<g id="n-internas"><rect class="b" x="1326" y="2305" width="150" height="41" rx="5"/><text class="t" x="1401" y="2322.5">Canalizaciones Internas<tspan x="1401" dy="14">al edificio</tspan></text></g>
<g id="n-monthoriz"><rect class="b" x="1112" y="2328" width="150" height="41" rx="5"/><text class="t" x="1187" y="2345.5">Canalizaciones<tspan x="1187" dy="14">montantes horizontales</tspan></text></g>
<g id="n-puntos"><rect class="b" x="1796" y="2338" width="202" height="41" rx="5"/><text class="t" x="1897" y="2355.5">puntos principales e<tspan x="1897" dy="14">intermedios de conexión cruzada</tspan></text></g>
<g id="n-interconex"><rect class="b" x="1632" y="2376" width="108" height="28" rx="5"/><text class="t" x="1686" y="2394">Interconexiones</text></g>
<g id="n-servicios"><rect class="b" x="1475" y="2435" width="87" height="41" rx="5"/><text class="t" x="1518.5" y="2452.5">servicios del<tspan x="1518.5" dy="14">edificio</tspan></text></g>
<g id="n-cuartostel"><rect class="b" x="1793" y="2441" width="128" height="41" rx="5"/><text class="t" x="1857" y="2458.5">cuartos de<tspan x="1857" dy="14">telecomunicaciones</tspan></text></g>
<g id="n-montvert"><rect class="b" x="1216" y="2453" width="135" height="42" rx="5"/><text class="t" x="1283.5" y="2471">Canalizaciones<tspan x="1283.5" dy="14">montantes verticales</tspan></text></g>
<g id="n-cuartosent"><rect class="b" x="1577" y="2501" width="80" height="41" rx="5"/><text class="t" x="1617" y="2518.5">cuartos de<tspan x="1617" dy="14">entrada</tspan></text></g>
<g id="n-cuartoseq"><rect class="b" x="1707" y="2500" width="77" height="43" rx="5"/><text class="t" x="1745.5" y="2518.5">cuartos de<tspan x="1745.5" dy="14">equipos</tspan></text></g>
<g id="n-consider"><rect class="b" x="1855" y="2553" width="136" height="44" rx="5"/><text class="t" x="1923" y="2572">consideraciones a<tspan x="1923" dy="14">su diseño y ubicación</tspan></text></g>
<g id="n-ubicacion"><rect class="b" x="1526" y="2644" width="174" height="42" rx="5"/><text class="t" x="1613" y="2662">ubicación cerca de<tspan x="1613" dy="14">las canalizaciones backbone</tspan></text></g>
<g id="n-ilumin"><rect class="b" x="1721" y="2642" width="82" height="28" rx="5"/><text class="t" x="1762" y="2660">iluminación</text></g>
<g id="n-interf"><rect class="b" x="1846" y="2684" width="120" height="43" rx="5"/><text class="t" x="1906" y="2702.5">interferencias<tspan x="1906" dy="14">electromagnéticas</tspan></text></g>
<g id="n-facilidad"><rect class="b" x="1519" y="2719" width="124" height="43" rx="5"/><text class="t" x="1581" y="2737.5">facilidad de acceso<tspan x="1581" dy="14">a equipos grandes</tspan></text></g>
<g id="n-evitar"><rect class="b" x="1853" y="2758" width="119" height="43" rx="5"/><text class="t" x="1912.5" y="2776.5">evitar filtraciones<tspan x="1912.5" dy="14">de agua</tspan></text></g>
<g id="n-prevencion"><rect class="b" x="1515" y="2816" width="98" height="41" rx="5"/><text class="t" x="1564" y="2833.5">prevención de<tspan x="1564" dy="14">incendios</tspan></text></g>
<g id="n-posib"><rect class="b" x="1629" y="2827" width="108" height="44" rx="5"/><text class="t" x="1683" y="2846">posibilidades de<tspan x="1683" dy="14">expansión</tspan></text></g>
<g id="n-altura"><rect class="b" x="1762" y="2841" width="51" height="27" rx="5"/><text class="t" x="1787.5" y="2858.5">altura</text></g>
<g id="n-vibraciones"><rect class="b" x="1832" y="2845" width="82" height="28" rx="5"/><text class="t" x="1873" y="2863">vibraciones</text></g>
<g id="n-instal"><rect class="b" x="2263" y="2060" width="156" height="27" rx="5"/><text class="t" x="2341" y="2077.5">Instalaciones de entrada</text></g>
<g id="n-eqtel"><rect class="b" x="2575" y="2045" width="128" height="40" rx="5"/><text class="t" x="2639" y="2062">equipos de<tspan x="2639" dy="14">telecomunicaciones</tspan></text></g>
<g id="n-dispint2"><rect class="b" x="2591" y="2119" width="101" height="42" rx="5"/><text class="t" x="2641.5" y="2137">dispositivos de<tspan x="2641.5" dy="14">interfaz</tspan></text></g>
<g id="n-borneras"><rect class="b" x="2715" y="2189" width="67" height="28" rx="5"/><text class="t" x="2748.5" y="2207">borneras</text></g>
<g id="n-ingresan"><rect class="b" x="2220" y="2200" width="148" height="41" rx="5"/><text class="t" x="2294" y="2217.5">Ingresan los servicios<tspan x="2294" dy="14">de Telecomunicaciones</tspan></text></g>
<g id="n-llegan"><rect class="b" x="2414" y="2191" width="159" height="42" rx="5"/><text class="t" x="2493.5" y="2209">Llegan las canalizaciones<tspan x="2493.5" dy="14">de interconexiones</tspan></text></g>
<g id="n-eqact"><rect class="b" x="2619" y="2244" width="61" height="41" rx="5"/><text class="t" x="2649.5" y="2261.5">equipos<tspan x="2649.5" dy="14">activos</tspan></text></g>
<g id="n-otros"><rect class="b" x="2429" y="2288" width="129" height="56" rx="5"/><text class="t" x="2493.5" y="2306">otros edificios de la<tspan x="2493.5" dy="14">misma corporacion</tspan><tspan x="2493.5" dy="14">(ej: campus)</tspan></text></g>
<g id="n-eqinf"><rect class="b" x="2240" y="2301" width="134" height="43" rx="5"/><text class="t" x="2307" y="2319.5">equipos informáticos<tspan x="2307" dy="14">(servidores)</tspan></text></g>
<g id="n-centvideo"><rect class="b" x="2336" y="2388" width="87" height="41" rx="5"/><text class="t" x="2379.5" y="2405.5">centrales de<tspan x="2379.5" dy="14">video</tspan></text></g>
<g id="n-sala"><rect class="b" x="2085" y="2411" width="105" height="28" rx="5"/><text class="t" x="2137.5" y="2429">Sala de Equipos</text></g>
<g id="n-centtel"><rect class="b" x="2226" y="2443" width="79" height="40" rx="5"/><text class="t" x="2265.5" y="2460">centrales<tspan x="2265.5" dy="14">telefónicas</tspan></text></g>
<g id="n-eqdir"><rect class="b" x="2204" y="2541" width="248" height="41" rx="5"/><text class="t" x="2328" y="2558.5">equipos directamente relacionados<tspan x="2328" dy="14">con los sistemas de telecomunicaciones.</tspan></text></g>
<g id="n-seubican"><rect class="b" x="2040" y="2620" width="241" height="41" rx="5"/><text class="t" x="2160.5" y="2637.5">se ubican los equipos de<tspan x="2160.5" dy="14">telecomunicaciones comunes al edificio</tspan></text></g>
<g id="n-areas"><rect class="b" x="3060" y="2076" width="112" height="32" rx="5"/><text class="t" x="3116" y="2096">Áreas de Trabajo</text></g>
<g id="n-losesp"><rect class="b" x="2958" y="2198" width="84" height="28" rx="5"/><text class="t" x="3000" y="2216">los espacios</text></g>
<g id="n-cualquier"><rect class="b" x="3204" y="2195" width="134" height="43" rx="5"/><text class="t" x="3271" y="2213.5">cualquier lugar al<tspan x="3271" dy="14">que deba conectarse</tspan></text></g>
<g id="n-impresoras"><rect class="b" x="3376" y="2244" width="79" height="29" rx="5"/><text class="t" x="3415.5" y="2262.5">impresoras</text></g>
<g id="n-escritorios"><rect class="b" x="2757" y="2298" width="77" height="28" rx="5"/><text class="t" x="2795.5" y="2316">escritorios</text></g>
<g id="n-boxes"><rect class="b" x="3023" y="2295" width="51" height="27" rx="5"/><text class="t" x="3048.5" y="2312.5">boxes</text></g>
<g id="n-camaras"><rect class="b" x="3393" y="2309" width="115" height="27" rx="5"/><text class="t" x="3450.5" y="2326.5">camaras de video</text></g>
<g id="n-alarma"><rect class="b" x="3146" y="2342" width="83" height="42" rx="5"/><text class="t" x="3187.5" y="2360">sistemas de<tspan x="3187.5" dy="14">alarma</tspan></text></g>
<g id="n-lugares"><rect class="b" x="2803" y="2351" width="118" height="42" rx="5"/><text class="t" x="2862" y="2369">lugares habituales<tspan x="2862" dy="14">de trabajo</tspan></text></g>
<g id="n-sitios"><rect class="b" x="2959" y="2366" width="130" height="55" rx="5"/><text class="t" x="3024" y="2383.5">sitios que requieran<tspan x="3024" dy="14">equipamiento de</tspan><tspan x="3024" dy="14">telecomunicaciones</tspan></text></g>
<g id="n-telefonos"><rect class="b" x="3352" y="2366" width="71" height="28" rx="5"/><text class="t" x="3387.5" y="2384">telefonos</text></g>
<g id="n-computadoras"><rect class="b" x="3249" y="2393" width="97" height="29" rx="5"/><text class="t" x="3297.5" y="2411.5">computadoras</text></g>
<g id="n-b3"><rect class="b" x="3045" y="811" width="105" height="28" rx="5"/><text class="t" x="3097.5" y="829">TIA/EIA 568-B3</text></g>
<g id="n-cabfo"><rect class="sc" x="2897" y="852" width="86" height="44" rx="5"/><rect class="b" x="2893" y="848" width="86" height="44" rx="5"/><text class="t" x="2936" y="867">cableado,<tspan x="2936" dy="14">Fibra óptica</tspan></text></g>
<g id="n-comoinst"><rect class="b" x="3107" y="856" width="172" height="30" rx="5"/><text class="t" x="3193" y="875">¿Cómo instalar el cableado?</text></g>
<g id="n-b2"><rect class="b" x="2956" y="899" width="104" height="28" rx="5"/><text class="t" x="3008" y="917">TIA/EIA 568-B2</text></g>
<g id="n-telcom1"><rect class="b" x="3300" y="909" width="153" height="41" rx="5"/><text class="t" x="3376.5" y="926.5">Telecomunicaciones en<tspan x="3376.5" dy="14">Edificios Comerciales</tspan></text></g>
<g id="n-cabpar"><rect class="sc" x="2828" y="941" width="139" height="56" rx="5"/><rect class="b" x="2824" y="937" width="139" height="56" rx="5"/><text class="t" x="2893.5" y="955">cableado mediante<tspan x="2893.5" dy="14">par</tspan><tspan x="2893.5" dy="14">trenzado balanceado</tspan></text></g>
<g id="n-b1"><rect class="b" x="3044" y="940" width="103" height="28" rx="5"/><text class="t" x="3095.5" y="958">TIA/EIA 568-B1</text></g>
<g id="n-a568b"><rect class="sc" x="3470" y="989" width="126" height="29" rx="5"/><rect class="b" x="3466" y="985" width="126" height="29" rx="5"/><text class="t" x="3529" y="1003.5">ANSI/TIA/EIA-568-B</text></g>
<g id="n-reqgen"><rect class="sc" x="2939" y="1003" width="111" height="43" rx="5"/><rect class="b" x="2935" y="999" width="111" height="43" rx="5"/><text class="t" x="2990.5" y="1017.5">Requerimientos<tspan x="2990.5" dy="14">generales</tspan></text></g>
<g id="n-admin"><rect class="b" x="3204" y="1007" width="227" height="71" rx="5"/><text class="t" x="3317.5" y="1032.5">Administrar y coordinar el sistema<tspan x="3317.5" dy="14">de estandarización voluntaria del</tspan><tspan x="3317.5" dy="14">sector privado de los Estados Unidos.</tspan></text></g>
<g id="n-a569a"><rect class="sc" x="3647" y="1072" width="130" height="29" rx="5"/><rect class="b" x="3643" y="1068" width="130" height="29" rx="5"/><text class="t" x="3708" y="1086.5">ANSI/TIA/EIA-569-A</text></g>
<g id="n-compelec"><rect class="b" x="3336" y="1105" width="179" height="71" rx="5"/><text class="t" x="3425.5" y="1123.5">componentes electrónicos,<tspan x="3425.5" dy="14">electrónica del consumidor,</tspan><tspan x="3425.5" dy="14">información electrónica,</tspan><tspan x="3425.5" dy="14">y telecomunicaciones.</tspan></text></g>
<g id="n-privada"><rect class="b" x="3072" y="1136" width="159" height="29" rx="5"/><text class="t" x="3151.5" y="1154.5">Privada sin fines de lucro</text></g>
<g id="n-recorridos"><rect class="b" x="3630" y="1131" width="156" height="56" rx="5"/><text class="t" x="3708" y="1149">Recorridos y Espacios<tspan x="3708" dy="14">de Telecomunicaciones</tspan><tspan x="3708" dy="14">en Edificios Comerciales</tspan></text></g>
<g id="n-ansiinst"><rect class="sy" x="2966" y="1205" width="125" height="43" rx="5"/><rect class="b" x="2962" y="1201" width="125" height="43" rx="5"/><text class="t" x="3024.5" y="1219.5">American National<tspan x="3024.5" dy="14">Standards Institute</tspan></text></g>
<g id="n-normastec"><rect class="b" x="3228" y="1201" width="123" height="30" rx="5"/><text class="t" x="3289.5" y="1220">Normas y Tecnicas</text></g>
<g id="n-normasind"><rect class="b" x="3462" y="1222" width="134" height="41" rx="5"/><text class="t" x="3529" y="1239.5">normas de cableado<tspan x="3529" dy="14">industrial voluntario</tspan></text></g>
<g id="n-comoenr"><rect class="sd" x="3627" y="1254" width="170" height="31" rx="5"/><rect class="b" x="3623" y="1250" width="170" height="31" rx="5"/><text class="t" x="3708" y="1269.5">¿Cómo enrutarel cableado?</text></g>
<g id="n-eia-assoc"><rect class="b" x="3094" y="1276" width="196" height="30" rx="5"/><text class="t" x="3192" y="1295">Electronics Industry Association</text></g>
<g id="n-a570"><rect class="sr" x="3434" y="1314" width="126" height="29" rx="5"/><rect class="b" x="3430" y="1310" width="126" height="29" rx="5"/><text class="t" x="3493" y="1328.5">ANSI/TIA/EIA-570-A</text></g>
<g id="n-a758"><rect class="sr" x="3866" y="1305" width="116" height="29" rx="5"/><rect class="b" x="3862" y="1301" width="116" height="29" rx="5"/><text class="t" x="3920" y="1319.5">ANSI/TIA/EIA-758</text></g>
<g id="n-ansi"><rect class="sb" x="2937" y="1326" width="43" height="27" rx="5"/><rect class="b" x="2933" y="1322" width="43" height="27" rx="5"/><text class="t" x="2954.5" y="1339.5">ANSI</text></g>
<g id="n-eia"><rect class="sb" x="3079" y="1329" width="35" height="28" rx="5"/><rect class="b" x="3075" y="1325" width="35" height="28" rx="5"/><text class="t" x="3092.5" y="1343">EIA</text></g>
<g id="n-tia-assoc"><rect class="b" x="3192" y="1356" width="143" height="43" rx="5"/><text class="t" x="3263.5" y="1374.5">Telecommunications<tspan x="3263.5" dy="14">Industry Association.</tspan></text></g>
<g id="n-a606"><rect class="sr" x="3584" y="1381" width="129" height="28" rx="5"/><rect class="b" x="3580" y="1377" width="129" height="28" rx="5"/><text class="t" x="3644.5" y="1395">ANSI/TIA/EIA-606-A</text></g>
<g id="n-a607"><rect class="sr" x="3730" y="1380" width="113" height="28" rx="5"/><rect class="b" x="3726" y="1376" width="113" height="28" rx="5"/><text class="t" x="3782.5" y="1394">ANSI/TIA/EIA-607</text></g>
<g id="n-infres"><rect class="sr" x="3428" y="1403" width="137" height="55" rx="5"/><rect class="b" x="3424" y="1399" width="137" height="55" rx="5"/><text class="t tl" x="3432" y="1416.5">Infraestructura<tspan x="3432" dy="14">Residencial de</tspan><tspan x="3432" dy="14">Telecomunicaciones</tspan></text></g>
<g id="n-fgh"><rect class="b" x="3906" y="1405" width="35" height="29" rx="5"/><text class="t" x="3923.5" y="1423.5">fgh</text></g>
<g id="n-organismos"><rect class="sg" x="2885" y="1415" width="147" height="32" rx="5"/><rect class="b" x="2881" y="1411" width="147" height="32" rx="5"/><text class="t" x="2954.5" y="1431">Organismos y Normas</text></g>
<g id="n-tia"><rect class="sb" x="3148" y="1418" width="38" height="27" rx="5"/><rect class="b" x="3144" y="1414" width="38" height="27" rx="5"/><text class="t" x="3163" y="1431.5">TIA</text></g>
<g id="n-infrated"><rect class="b" x="3567" y="1452" width="160" height="56" rx="5"/><text class="t tl" x="3575" y="1470">Infraestructura de<tspan x="3575" dy="14">Telecomunicaciones</tspan><tspan x="3575" dy="14">en Edificios Comerciales</tspan></text></g>
<g id="n-instptierra"><rect class="b" x="3728" y="1451" width="110" height="57" rx="5"/><text class="t tl" x="3736" y="1469.5">instalaciones de<tspan x="3736" dy="14">sistemas de</tspan><tspan x="3736" dy="14">puesta a tierra</tspan></text></g>
<g id="n-planta"><rect class="b" x="3870" y="1489" width="130" height="56" rx="5"/><text class="t tl" x="3878" y="1507">cableado de Planta<tspan x="3878" dy="14">Externa de</tspan><tspan x="3878" dy="14">Telecomunicaciones</tspan></text></g>
<g id="n-iso"><rect class="sb" x="3082" y="1482" width="36" height="30" rx="5"/><rect class="b" x="3078" y="1478" width="36" height="30" rx="5"/><text class="t" x="3096" y="1497">ISO</text></g>
<g id="n-ieee"><rect class="sb" x="2940" y="1508" width="43" height="29" rx="5"/><rect class="b" x="2936" y="1504" width="43" height="29" rx="5"/><text class="t" x="2957.5" y="1522.5">IEEE</text></g>
<g id="n-isoorg"><rect class="b" x="3216" y="1515" width="152" height="43" rx="5"/><text class="t" x="3292" y="1533.5">International Standards<tspan x="3292" dy="14">Organization</tspan></text></g>
<g id="n-telcom2"><rect class="b" x="3708" y="1548" width="152" height="41" rx="5"/><text class="t tl" x="3716" y="1565.5">Telecomunicaciones en<tspan x="3716" dy="14">Edificios Comerciales</tspan></text></g>
<g id="n-instituto"><rect class="b" x="2875" y="1587" width="167" height="43" rx="5"/><text class="t" x="2958.5" y="1605.5">Instituto de Ingenieros<tspan x="2958.5" dy="14">Eléctricos y de Electrónica</tspan></text></g>
<g id="n-ong"><rect class="b" x="3362" y="1617" width="108" height="43" rx="5"/><text class="t" x="3416" y="1635.5">Organización no<tspan x="3416" dy="14">gubernamental</tspan></text></g>
<g id="n-q2"><rect class="b" x="3175" y="1635" width="38" height="28" rx="5"/><text class="t" x="3194" y="1653">????</text></g>
<g id="n-especif"><rect class="b" x="2876" y="1665" width="169" height="29" rx="5"/><text class="t" x="2960.5" y="1683.5">especificaciones de redes</text></g>
<g id="n-e8023"><rect class="b" x="2781" y="1761" width="106" height="27" rx="5"/><text class="t" x="2834" y="1778.5">802.3 Ethernet</text></g>
<g id="n-e8025"><rect class="b" x="2901" y="1758" width="113" height="30" rx="5"/><text class="t" x="2957.5" y="1777">802.5 TokenRing</text></g>
<g id="n-atm"><rect class="b" x="3031" y="1760" width="41" height="27" rx="5"/><text class="t" x="3051.5" y="1777.5">ATM</text></g>
<g id="n-giga"><rect class="b" x="3081" y="1757" width="165" height="30" rx="5"/><text class="t" x="3163.5" y="1776">normas de GigabitEtherne</text></g>
</g>
</svg>
